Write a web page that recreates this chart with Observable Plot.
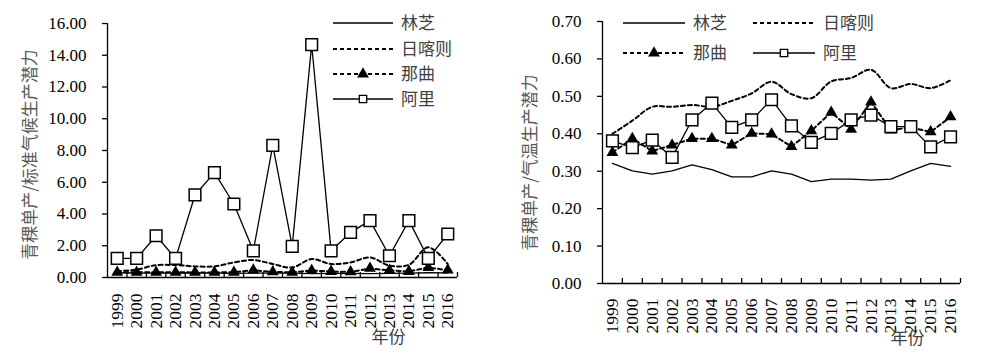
<!DOCTYPE html>
<html><head><meta charset="utf-8">
<script src="https://cdn.jsdelivr.net/npm/d3@7"></script>
<script src="https://cdn.jsdelivr.net/npm/@observablehq/plot@0.6"></script>
<style>
html,body{margin:0;padding:0;background:#fff;}
#wrap{position:relative;width:1000px;height:364px;overflow:hidden;background:#fff;}
#wrap svg{position:absolute;top:0;}
</style></head>
<body><div id="wrap"></div>
<script>
const years = [1999,2000,2001,2002,2003,2004,2005,2006,2007,2008,2009,2010,2011,2012,2013,2014,2015,2016];
const seriesNames = ["林芝","日喀则","那曲","阿里"];

// Left: 青稞单产/标准气候生产潜力
const linzhiL = [0.30,0.28,0.27,0.28,0.30,0.28,0.26,0.27,0.28,0.27,0.25,0.26,0.26,0.25,0.26,0.28,0.30,0.29];
const rikazeL = [0.40,0.50,0.78,0.78,0.70,0.70,0.95,1.10,0.85,0.63,1.16,0.85,0.95,1.26,0.75,0.80,1.90,0.85];
const naquL   = [0.32,0.33,0.33,0.33,0.32,0.32,0.33,0.46,0.35,0.33,0.44,0.38,0.35,0.57,0.45,0.38,0.63,0.46];
const aliL    = [1.20,1.20,2.63,1.20,5.20,6.61,4.63,1.68,8.32,1.96,14.67,1.68,2.84,3.58,1.37,3.58,1.20,2.74];
const yTicksL = [0,2,4,6,8,10,12,14,16];
const yTitleL = "青稞单产/标准气候生产潜力";

// Right: 青稞单产/气温生产潜力
const linzhiR = [0.321,0.301,0.292,0.301,0.317,0.304,0.285,0.285,0.301,0.292,0.272,0.279,0.279,0.276,0.279,0.301,0.321,0.313];
const rikazeR = [0.400,0.435,0.472,0.472,0.477,0.472,0.488,0.508,0.539,0.506,0.495,0.540,0.549,0.571,0.522,0.533,0.522,0.543];
const naquR   = [0.350,0.387,0.354,0.370,0.387,0.387,0.370,0.401,0.399,0.366,0.408,0.457,0.412,0.485,0.410,0.417,0.405,0.445];
const aliR    = [0.381,0.363,0.383,0.337,0.437,0.482,0.417,0.437,0.491,0.421,0.377,0.401,0.437,0.450,0.419,0.419,0.365,0.392];
const yTicksR = [0,0.1,0.2,0.3,0.4,0.5,0.6,0.7];
const yTitleR = "青稞单产/气温生产潜力";
const xTitle = "年份";

const serif = "'Liberation Serif','DejaVu Serif',serif";
const cjk = "'Noto Sans CJK SC','Noto Sans',sans-serif";

function rows(arr){ return years.map((y,i)=>({year:y, v:arr[i]})); }

function chart(o){
  const bounds = years.map(y=>y+0.5);
  const dash = {stroke:"black", strokeWidth:2, strokeDasharray:"4,3"};
  return Plot.plot({
    width:o.width, height:364,
    marginLeft:o.ml, marginRight:o.mr, marginTop:o.mt, marginBottom:o.mb,
    style:{background:"transparent", overflow:"visible"},
    x:{type:"linear", domain:[years[0]-0.5, years[years.length-1]+0.5], axis:null},
    y:{domain:[0, o.yTicks[o.yTicks.length-1]], axis:null},
    marks:[
      Plot.axisY({ticks:o.yTicks, tickFormat:d3.format(".2f"), tickSize:5, tickPadding:16,
        fontSize:17, fontFamily:serif, label:null, strokeWidth:1.3}),
      Plot.ruleX([years[0]-0.5], {stroke:"black", strokeWidth:1.3}),
      Plot.ruleY([0], {stroke:"black", strokeWidth:1.3}),
      Plot.ruleX(bounds, {x:d=>d, y1:0, y2:0, insetTop:-5, stroke:"black", strokeWidth:1.3}),
      Plot.text(years, {x:d=>d, frameAnchor:"bottom", rotate:-90, textAnchor:"end", lineAnchor:"middle",
        dy:o.labelDy, text:d=>String(d), fontSize:17.5, fontFamily:serif, fill:"black"}),
      Plot.text([o.yTitle], {frameAnchor:"left", rotate:-90, textAnchor:"middle", lineAnchor:"middle",
        dx:o.titleDx, dy:o.titleDy, text:d=>d,
        fontSize:17, fontFamily:cjk, fill:"#595959"}),
      Plot.text([xTitle], {frameAnchor:"bottom-right", textAnchor:"middle", dx:o.xtDx, dy:o.xtDy, text:d=>d,
        fontSize:17, fontFamily:cjk, fill:"#404040"}),
      Plot.line(rows(o.linzhi), {x:"year", y:"v", stroke:"black", strokeWidth:1.3}),
      Plot.line(rows(o.rikaze), {x:"year", y:"v", curve:"catmull-rom", ...dash}),
      Plot.line(rows(o.naqu), {x:"year", y:"v", ...dash}),
      Plot.dot(rows(o.naqu), {x:"year", y:"v", symbol:"triangle", r:4.4, fill:"black", stroke:"none"}),
      Plot.line(rows(o.ali), {x:"year", y:"v", stroke:"black", strokeWidth:1.3}),
      Plot.dot(rows(o.ali), {x:"year", y:"v", symbol:"square", r:6.6, fill:"white", stroke:"black", strokeWidth:1.5})
    ]
  });
}

const wrap = document.getElementById("wrap");
const left = chart({width:480, ml:107, mr:23, mt:23, mb:87, yTicks:yTicksL, yTitle:yTitleL,
  linzhi:linzhiL, rikaze:rikazeL, naqu:naquL, ali:aliL, labelDy:16, titleDx:-77, titleDy:4, xtDx:-69, xtDy:65});
left.style.left = "0px";
wrap.appendChild(left);
const right = chart({width:500, ml:102, mr:40, mt:21, mb:81, yTicks:yTicksR, yTitle:yTitleR,
  linzhi:linzhiR, rikaze:rikazeR, naqu:naquR, ali:aliR, labelDy:15, titleDx:-72, titleDy:10, xtDx:-53, xtDy:60});
right.style.left = "500px";
wrap.appendChild(right);

// Legends
const lg = d3.select(wrap).append("svg").attr("width",1000).attr("height",364).style("left","0px").style("pointer-events","none");
function legendItem(x1, x2, y, k){
  const g = lg.append("g");
  const line = g.append("line").attr("x1",x1).attr("x2",x2).attr("y1",y).attr("y2",y).attr("stroke","black");
  if (k===0 || k===3) line.attr("stroke-width",1.3);
  else line.attr("stroke-width",2).attr("stroke-dasharray","4,3");
  const cx = (x1+x2)/2;
  if (k===2) g.append("path").attr("d", d3.symbol(d3.symbolTriangle, Math.PI*4.4*4.4)()).attr("transform",`translate(${cx},${y})`).attr("fill","black");
  if (k===3) g.append("path").attr("d", d3.symbol(d3.symbolSquare, Math.PI*4.2*4.2)()).attr("transform",`translate(${cx},${y})`).attr("fill","white").attr("stroke","black").attr("stroke-width",1.3);
  g.append("text").attr("x",x2+8).attr("y",y).attr("dy","0.35em").attr("font-family",cjk).attr("font-size",17).attr("fill","#404040").text(seriesNames[k]);
}
[23,49,74,99].forEach((y,k)=>legendItem(333,393,y,k));
legendItem(623,685,23,0); legendItem(753,815,23,1);
legendItem(623,685,53,2); legendItem(753,815,53,3);
</script></body></html>
